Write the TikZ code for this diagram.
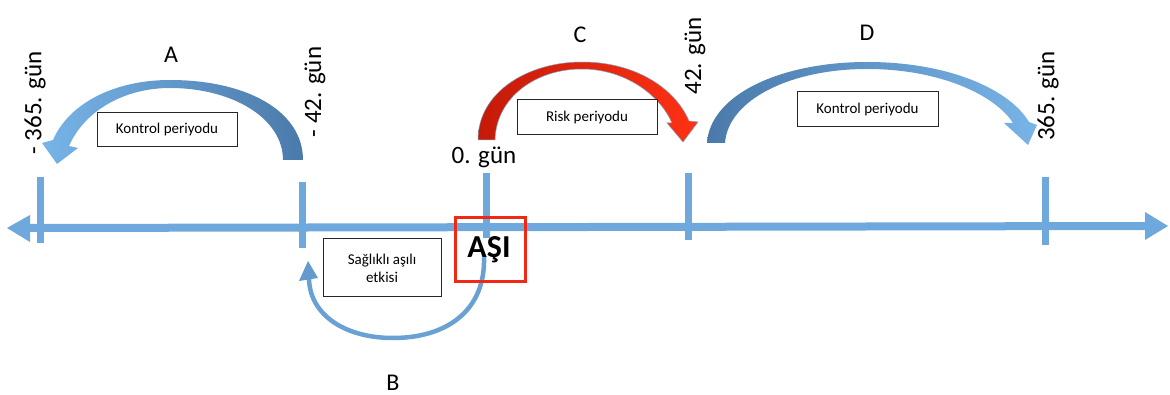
\documentclass[tikz,border=0pt]{standalone}
\usepackage{fontspec}
\setmainfont{Carlito}
\definecolor{axisblue}{RGB}{111,168,220}
\definecolor{lightarc}{RGB}{120,180,232}
\definecolor{darkarc}{RGB}{74,122,170}
\definecolor{redL}{RGB}{196,26,8}
\definecolor{redR}{RGB}{255,50,20}
\definecolor{ashred}{RGB}{240,40,20}
\begin{document}
\begin{tikzpicture}[x=1pt,y=-1pt,
  axisline/.style={draw=axisblue,line width=8pt},
  tickline/.style={draw=axisblue,line width=7pt},
  daylabel/.style={font=\fontsize{25}{27}\selectfont,inner sep=0pt},
  letterlabel/.style={font=\fontsize{24}{26}\selectfont,inner sep=0pt},
  infobox/.style={draw=black!85,line width=1pt,fill=white,font=\fontsize{15}{18}\selectfont,align=center,inner sep=0pt}]
\useasboundingbox (0,0) rectangle (1170,395);
% axis
\coordinate (axL) at (30,228);
\coordinate (axR) at (1145,226);
\draw[axisline] (axL) -- (axR);
\fill[axisblue] (7,228) -- (30,215) -- (30,242) -- cycle;
\fill[axisblue] (1168,226) -- (1145,212) -- (1145,240) -- cycle;
% ticks
\draw[tickline] (40,177) -- (40,243);
\draw[tickline] (302,182) -- (302,248);
\draw[tickline] (486,173) -- (486,238);
\draw[tickline] (688,173) -- (688,240);
\draw[tickline] (1045,177) -- (1045,245);
% arrow A
\shade[left color=lightarc,right color=darkarc]
 (303,160) .. controls (303,110) and (245,80) .. (170,80)
 .. controls (112,80) and (68,105) .. (53,140) -- (42,143) -- (57,164) -- (78,148) -- (69,146)
 .. controls (85,110) and (125,88) .. (170,88)
 .. controls (232,88) and (283,118) .. (283,160) -- cycle;
% arrow C
\shade[left color=redL,right color=redR,draw=darkarc!70,line width=0.5pt]
 (478,140) .. controls (478,92) and (528,62) .. (582,62)
 .. controls (635,62) and (675,88) .. (689,121) -- (698,122) -- (683,142) -- (667,123) -- (672,123)
 .. controls (660,95) and (625,69) .. (582,69)
 .. controls (535,69) and (496,98) .. (495,140) -- cycle;
% arrow D
\shade[left color=darkarc,right color=lightarc]
 (707,143) .. controls (710,95) and (780,62) .. (867,62)
 .. controls (950,62) and (1010,90) .. (1029,122) -- (1037,125) -- (1028,145) -- (1004,123) -- (1013,123)
 .. controls (995,95) and (940,69) .. (867,69)
 .. controls (790,69) and (728,100) .. (725,143) -- cycle;
% arrow B
\draw[line width=4.5pt,draw=axisblue!85!darkarc] (484,256) .. controls (486,312) and (445,338) .. (393,338)
 .. controls (345,338) and (310,315) .. (309,279);
\fill[axisblue!70!darkarc] (299,281) -- (308,261) -- (318,278) -- cycle;
% day labels
\node[daylabel,rotate=90] (d365m) at (35,103) {- 365. gün};
\node[daylabel,rotate=90] (d42m) at (315,92) {- 42. gün};
\node[daylabel] (d0) at (484,157) {0. gün};
\node[daylabel,rotate=90] (d42) at (695,56) {42. gün};
\node[daylabel,rotate=90] (d365) at (1048,96) {365. gün};
% letters
\node[letterlabel] (lA) at (171,55) {A};
\node[letterlabel] (lB) at (393,383) {B};
\node[letterlabel] (lC) at (580,35) {C};
\node[letterlabel] (lD) at (867,33) {D};
% boxes
\node[infobox,minimum width=140pt,minimum height=34pt] (bA) at (167,130) {Kontrol periyodu};
\node[infobox,minimum width=118pt,minimum height=58pt] (bB) at (382,268) {Sağlıklı aşılı\\etkisi};
\node[infobox,minimum width=140pt,minimum height=35pt] (bC) at (587,117.5) {Risk periyodu};
\node[infobox,minimum width=141pt,minimum height=35pt] (bD) at (867.5,109.5) {Kontrol periyodu};
% ASI
\node[draw=ashred,line width=3pt,minimum width=70pt,minimum height=64pt,inner sep=0pt] (asi) at (490.5,249.5) {};
\node[font=\bfseries\fontsize{32}{34}\selectfont,inner sep=0pt] (asiT) at (489,250) {AŞI};
\end{tikzpicture}
\end{document}
